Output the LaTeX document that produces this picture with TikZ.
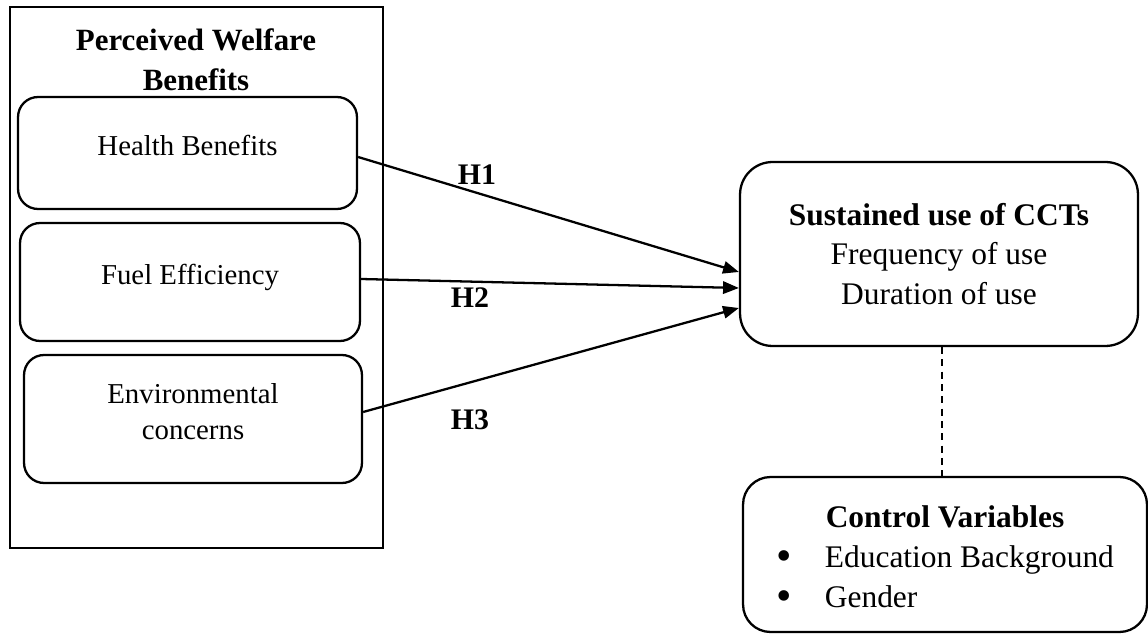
\documentclass[tikz,border=0pt]{standalone}
\usepackage{fontspec}
\setmainfont{Liberation Serif}
\usetikzlibrary{arrows.meta, calc}

\newcommand{\bigbul}{\raisebox{-1.8pt}{\scalebox{1.4}{\textbullet}}}

\begin{document}
\begin{tikzpicture}[x=0.02cm, y=-0.02cm, line width=1.3pt, >={Triangle[length=9pt, width=7pt]},
  every node/.style={font=\fontsize{16.4}{20.4}\selectfont},
  pbox/.style={draw, rounded corners=0.4cm, align=center, text depth=9pt},
  bigbox/.style={draw, align=center, font=\fontsize{17.9}{22.7}\selectfont},
  hlabel/.style={font=\fontsize{17}{20}\selectfont\bfseries}]
\useasboundingbox (0,0) rectangle (1148,634);
% left frame with the three benefits
\node[draw, minimum width=7.46cm, minimum height=10.82cm] (frame) at (196.5,277.5) {};
\node[font=\fontsize{17.6}{22.7}\selectfont\bfseries, align=center] (title) at (196,60) {Perceived Welfare\\Benefits};
\node[pbox, minimum width=6.78cm, minimum height=2.24cm] (hb) at (187.5,153) {Health Benefits};
\node[pbox, minimum width=6.8cm, minimum height=2.36cm] (fe) at (190,282) {Fuel Efficiency};
\node[pbox, minimum width=6.76cm, minimum height=2.56cm] (env) at (193,419) {Environmental\\concerns};
% outcome and controls
\node[bigbox, rounded corners=0.65cm, minimum width=7.96cm, minimum height=3.68cm] (sus) at (939,254) {\textbf{Sustained use of CCTs}\\Frequency of use\\Duration of use};
\node[bigbox, rounded corners=0.55cm, minimum width=8.08cm, minimum height=3.1cm, text height=15.9pt, text depth=46.5pt] (ctrl) at (945,554.5) {\begin{tabular}[t]{@{}l@{\hspace{19pt}}l@{}}\multicolumn{2}{c}{\textbf{Control Variables}}\\ \bigbul & Education Background\\ \bigbul & Gender\end{tabular}};
% hypotheses
\draw[->] ([yshift=-0.08cm]hb.east) -- ([yshift=-0.36cm]sus.west);
\draw[->] ([yshift=0.06cm]fe.east) -- ([yshift=-0.68cm]sus.west);
\draw[->] ([yshift=0.14cm]env.east) -- ([yshift=-1.08cm]sus.west);
\node[hlabel] (h1) at (477,175) {H1};
\node[hlabel] (h2) at (470,298) {H2};
\node[hlabel] (h3) at (470,420) {H3};
\draw[dashed, dash pattern=on 4pt off 3pt] ([xshift=0.06cm]sus.south) -- ([xshift=0.06cm]sus.south |- ctrl.north);
\end{tikzpicture}
\end{document}
